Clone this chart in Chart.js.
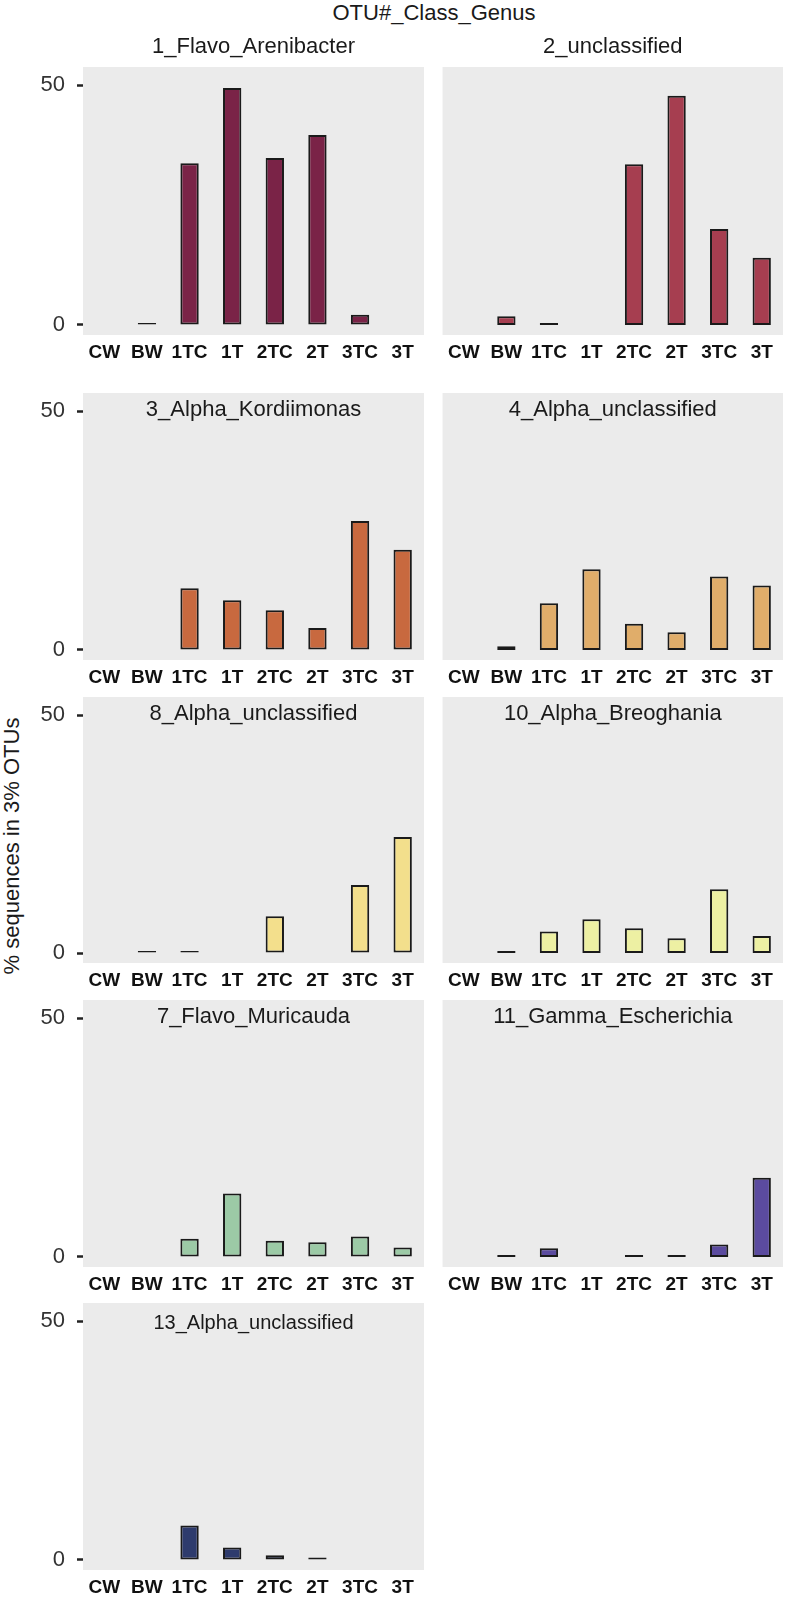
<!DOCTYPE html>
<html>
<head>
<meta charset="utf-8">
<script src="https://cdn.jsdelivr.net/npm/chart.js@4/dist/chart.umd.min.js"></script>
<style>
  html, body { margin: 0; padding: 0; background: #fff; }
  body { width: 785px; height: 1597px; position: relative; overflow: hidden;
         font-family: "Liberation Sans", Arial, Helvetica, sans-serif; }
  canvas { position: absolute; }
  #mainTitle { position: absolute; left: 234px; top: 0; width: 400px; text-align: center;
               font-size: 22px; line-height: 26px; color: #1a1a1a; }
  #yTitle { position: absolute; left: -188px; top: 833px; width: 400px; height: 26px;
            line-height: 26px; text-align: center; font-size: 22px; color: #1a1a1a;
            transform: rotate(-90deg); transform-origin: 50% 50%; }
</style>
</head>
<body>
<div id="mainTitle">OTU#_Class_Genus</div>
<div id="yTitle">% sequences in 3% OTUs</div>
<script>
// ─── DATA ─────────────────────────────────────────────────────────────────────
const SAMPLES = ['CW', 'BW', '1TC', '1T', '2TC', '2T', '3TC', '3T'];
const Y_TICKS = [0, 50];

const OTU_NAMES = [
  '1_Flavo_Arenibacter', '2_unclassified',
  '3_Alpha_Kordiimonas', '4_Alpha_unclassified',
  '8_Alpha_unclassified', '10_Alpha_Breoghania',
  '7_Flavo_Muricauda', '11_Gamma_Escherichia',
  '13_Alpha_unclassified'
];
const OTU_COLORS = [
  '#7a2347', '#a63e50',
  '#c8693f', '#e0ad6a',
  '#f3df8c', '#edf0a3',
  '#9ccaa6', '#5b4b9f',
  '#2e3b6d'
];

// % sequences per sample, same order as SAMPLES
const otu1  = [0, 0.4, 33.7, 49.4, 34.8, 39.6, 2.1, 0];
const otu2  = [0, 1.8, 0.4, 0, 33.5, 47.8, 20.0, 14.0];
const otu3  = [0, 0, 12.9, 10.4, 8.3, 4.6, 27.0, 21.0];
const otu4  = [0, 0.8, 9.8, 16.9, 5.5, 3.7, 15.4, 13.5];
const otu8  = [0, 0.4, 0.4, 0, 7.7, 0, 14.3, 24.4];
const otu10 = [0, 0.4, 4.5, 7.1, 5.2, 3.1, 13.4, 3.6];
const otu7  = [0, 0, 3.8, 13.3, 3.4, 3.1, 4.3, 2.0];
const otu11 = [0, 0.4, 1.8, 0, 0.4, 0.4, 2.6, 16.6];
const otu13 = [0, 0, 7.2, 2.6, 1.0, 0.5, 0, 0];

const OTU_VALUES = [otu1, otu2, otu3, otu4, otu8, otu10, otu7, otu11, otu13];

// ─── LAYOUT ───────────────────────────────────────────────────────────────────
const FONT = '"Liberation Sans", Arial, Helvetica, sans-serif';
const COL_LEFT = [83, 442];      // panel left edges
const PANEL_W = 341;
const ROW_TOP = [67, 393, 697, 1000, 1303];
const ROW_BOTTOM = [335, 660, 963, 1267, 1570];
const PAD_TOP = 40, AXIS_H = 40;
const Y_MIN = -2.1, Y_MAX = 53.8;

// grey panel background + facet label
const panelDeco = {
  id: 'panelDeco',
  beforeDraw(chart) {
    const { ctx, chartArea: a } = chart;
    ctx.save();
    ctx.fillStyle = '#ebebeb';
    ctx.fillRect(a.left, a.top, a.right - a.left, a.bottom - a.top);
    ctx.restore();
  },
  afterDraw(chart, args, opts) {
    const { ctx, chartArea: a } = chart;
    ctx.save();
    ctx.font = `${opts.size}px ${FONT}`;
    ctx.fillStyle = '#1a1a1a';
    ctx.textAlign = 'center';
    ctx.textBaseline = 'middle';
    ctx.fillText(opts.text, (a.left + a.right) / 2, a.top + opts.dy);
    ctx.restore();
  }
};

function buildPanel(i) {
  const row = Math.floor(i / 2), col = i % 2;
  const ph = ROW_BOTTOM[row] - ROW_TOP[row];
  const axisW = col === 0 ? COL_LEFT[0] : 0;
  const canvas = document.createElement('canvas');
  canvas.width = axisW + PANEL_W;
  canvas.height = PAD_TOP + ph + AXIS_H;
  canvas.style.left = (COL_LEFT[col] - axisW) + 'px';
  canvas.style.top = (ROW_TOP[row] - PAD_TOP) + 'px';
  document.body.appendChild(canvas);

  new Chart(canvas, {
    type: 'bar',
    data: {
      labels: SAMPLES,
      datasets: [{
        data: OTU_VALUES[i],
        backgroundColor: OTU_COLORS[i],
        borderColor: '#1a1a1a',
        borderWidth: 2,
        borderSkipped: false,
        barPercentage: 0.43,
        categoryPercentage: 1
      }]
    },
    options: {
      responsive: false,
      animation: false,
      events: [],
      layout: { padding: { top: PAD_TOP } },
      plugins: {
        legend: { display: false },
        tooltip: { enabled: false },
        panelDeco: {
          text: OTU_NAMES[i],
          dy: row === 0 ? -20 : (i === 8 ? 20 : 17),
          size: i === 8 ? 20 : 22
        }
      },
      scales: {
        x: {
          offset: true,
          grid: { display: false, drawTicks: false },
          border: { display: false },
          afterFit: s => { s.height = AXIS_H; },
          ticks: {
            autoSkip: false, maxRotation: 0, minRotation: 0, padding: 6,
            color: '#111', font: { size: 19, weight: 'bold', family: FONT }
          }
        },
        y: {
          display: col === 0,
          min: Y_MIN,
          max: Y_MAX,
          afterBuildTicks: s => { s.ticks = Y_TICKS.map(v => ({ value: v })); },
          afterFit: s => { s.width = axisW; },
          grid: { drawOnChartArea: false, drawTicks: true, tickLength: 6, tickColor: '#222', tickWidth: 2.5 },
          border: { display: false },
          ticks: { padding: 12, color: '#333', font: { size: 22, family: FONT } }
        }
      }
    },
    plugins: [panelDeco]
  });
}

OTU_VALUES.forEach((_, i) => buildPanel(i));
</script>
</body>
</html>
